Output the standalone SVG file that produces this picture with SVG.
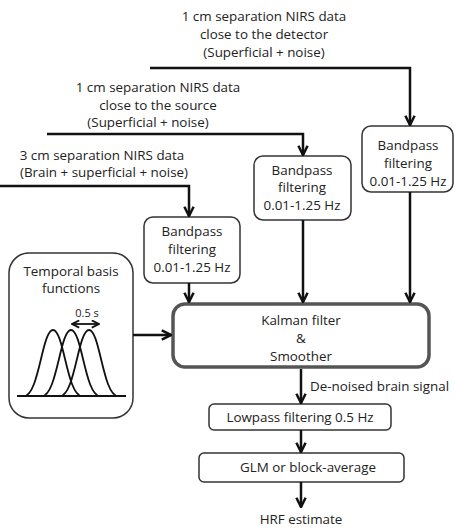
<svg xmlns="http://www.w3.org/2000/svg" width="455" height="528" viewBox="0 0 455 528">
<style>
text{font-family:"Open Sans","Liberation Sans",Arial,sans-serif;font-size:13.4px;fill:#222;text-anchor:middle}
.box{fill:#fff;stroke:#333;stroke-width:1.5}
.big{fill:#fff;stroke:#555;stroke-width:3.5}
.ln{fill:none;stroke:#111;stroke-width:2.5}
.g{fill:none;stroke:#111;stroke-width:1.8}
</style>
<defs>
<marker id="ah" viewBox="0 0 10 10" refX="9" refY="5" markerWidth="4.6" markerHeight="4.6" orient="auto" markerUnits="strokeWidth">
<path d="M1,1 L9,5 L1,9" fill="none" stroke="#111" stroke-width="2.2"/>
</marker>
<marker id="ah2" viewBox="0 0 10 10" refX="9" refY="5" markerWidth="5" markerHeight="5" orient="auto-start-reverse" markerUnits="strokeWidth">
<path d="M1,1 L9,5 L1,9" fill="none" stroke="#111" stroke-width="2"/>
</marker>
</defs>
<rect width="455" height="528" fill="#fff"/>

<g id="label-detector">
<text x="264" y="21">1 cm separation NIRS data</text>
<text x="264" y="39">close to the detector</text>
<text x="264" y="57">(Superficial  + noise)</text>
</g>
<g id="label-source">
<text x="158" y="92">1 cm separation NIRS data</text>
<text x="158" y="110">close to the source</text>
<text x="148" y="127">(Superficial  + noise)</text>
</g>
<g id="label-3cm">
<text x="102" y="160">3 cm separation NIRS data</text>
<text x="104" y="177">(Brain + superficial + noise)</text>
</g>

<g id="bp-right">
<rect class="box" x="362" y="126" width="91" height="66" rx="9"/>
<text x="408" y="150">Bandpass</text>
<text x="408" y="168">filtering</text>
<text x="408" y="186">0.01-1.25 Hz</text>
</g>
<g id="bp-mid">
<rect class="box" x="254" y="156" width="97" height="64" rx="9"/>
<text x="302" y="175">Bandpass</text>
<text x="302" y="192">filtering</text>
<text x="302" y="210">0.01-1.25 Hz</text>
</g>
<g id="bp-left">
<rect class="box" x="144" y="217" width="96" height="66" rx="9"/>
<text x="192" y="236">Bandpass</text>
<text x="192" y="254">filtering</text>
<text x="192" y="272">0.01-1.25 Hz</text>
</g>

<g id="temporal">
<rect class="box" x="9" y="253" width="124" height="165" rx="20"/>
<text x="71" y="276">Temporal basis</text>
<text x="71" y="293">functions</text>
<text x="87" y="317" style="font-size:11px">0.5 s</text>
<line x1="72" y1="324" x2="99" y2="324" class="g" stroke-width="2" marker-start="url(#ah2)" marker-end="url(#ah2)"/>
<line class="g" x1="17" y1="396" x2="126" y2="396"/>
<path class="g" d="M24,396 C39,396 42,330 53,330 C64,330 67,396 82,396"/>
<path class="g" d="M42,396 C57,396 60,330 71,330 C82,330 85,396 100,396"/>
<path class="g" d="M60,396 C75,396 78,330 89,330 C100,330 103,396 118,396"/>
</g>

<g id="kalman">
<rect class="big" x="173" y="304" width="256" height="63" rx="12"/>
<text x="301" y="325">Kalman filter</text>
<text x="301" y="343">&amp;</text>
<text x="301" y="361">Smoother</text>
</g>

<g id="lowpass">
<rect class="box" x="209" y="404" width="182" height="26" rx="5"/>
<text x="300" y="422">Lowpass filtering 0.5 Hz</text>
</g>
<g id="glm">
<rect class="box" x="199" y="453" width="205" height="29" rx="5"/>
<text x="308" y="472">GLM or block-average</text>
</g>
<g id="hrf">
<text x="301" y="524">HRF estimate</text>
</g>

<g id="connectors">
<polyline class="ln" points="150,68 410,68 410,125" marker-end="url(#ah)"/>
<polyline class="ln" points="47,134 303,134 303,155" marker-end="url(#ah)"/>
<polyline class="ln" points="0,186 189,186 189,216" marker-end="url(#ah)"/>
<line class="ln" x1="189" y1="283" x2="189" y2="302" marker-end="url(#ah)"/>
<line class="ln" x1="303" y1="220" x2="303" y2="302" marker-end="url(#ah)"/>
<line class="ln" x1="410" y1="192" x2="410" y2="302" marker-end="url(#ah)"/>
<line class="ln" x1="133" y1="335" x2="171" y2="335" marker-end="url(#ah)"/>
<line class="ln" x1="301" y1="369" x2="301" y2="403" marker-end="url(#ah)"/>
<text x="310" y="391" style="text-anchor:start">De-noised brain signal</text>
<line class="ln" x1="301" y1="430" x2="301" y2="452" marker-end="url(#ah)"/>
<line class="ln" x1="301" y1="482" x2="301" y2="507" marker-end="url(#ah)"/>
</g>
</svg>
